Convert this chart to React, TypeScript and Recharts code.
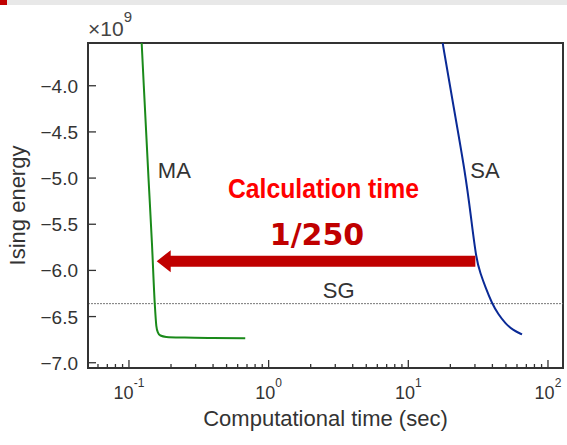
import React from 'react';
import { LineChart, Line, XAxis, YAxis, ReferenceLine, ReferenceArea, ReferenceDot, Label } from 'recharts';

// ---- data ----
const maTime = [0.1225, 0.1277, 0.138, 0.146, 0.153, 0.157, 0.161, 0.168, 0.185, 0.25, 0.4, 0.68];
const maEnergy = [-3.45, -4.0, -5.0, -5.7, -6.36, -6.6, -6.67, -6.705, -6.72, -6.728, -6.733, -6.735];
const saTime = [17.3, 17.6, 21.1, 25.6, 28.1, 30.7, 32.8, 35.6, 39.7, 44.1, 49.5, 56.5, 65.2];
const saEnergy = [-3.45, -3.541, -4.227, -4.949, -5.419, -5.888, -6.029, -6.18, -6.357, -6.476, -6.574, -6.65, -6.693];

const xMajorTicks = [0.1, 1, 10, 100];
const xMinorTicks = [0.06, 0.07, 0.08, 0.09, 0.2, 0.3, 0.4, 0.5, 0.6, 0.7, 0.8, 0.9, 2, 3, 4, 5, 6, 7, 8, 9, 20, 30, 40, 50, 60, 70, 80, 90];
const yTicks = [-7.0, -6.5, -6.0, -5.5, -5.0, -4.5, -4.0];
const xDomain = [0.0509, 128.1];
const yDomain = [-7.057, -3.537];
const yExponent = 9;

const sgEnergy = -6.36;
// arrow: from SA to MA at the same energy
const arrowFrom = { x: 30.2, y: -5.9 };
const arrowTo = { x: 0.158, y: -5.9 };

// annotations (data coords of text baseline)
const annotations = [
  { key: 'MA', text: 'MA', x: 0.161, y: -5.0, kind: 'label', anchor: 'start' },
  { key: 'SA', text: 'SA', x: 27.8, y: -5.0, kind: 'label', anchor: 'start' },
  { key: 'SG', text: 'SG', x: 3.17, y: -6.303, kind: 'label', anchor: 'middle' },
  { key: 'calc', text: 'Calculation time', x: 2.47, y: -5.213, kind: 'title', anchor: 'middle' },
  { key: 'ratio', text: '1/250', x: 2.22, y: -5.729, kind: 'ratio', anchor: 'middle' },
];

const toRows = (xs: number[], ys: number[]) => xs.map((x, i) => ({ x, y: ys[i] }));
const maData = toRows(maTime, maEnergy);
const saData = toRows(saTime, saEnergy);

const FONT = "'Liberation Sans', Arial, Helvetica, sans-serif";
const AXIS = '#333333';

const XTick = (props: any) => {
  const { x, y, payload } = props;
  const v = payload.value;
  const lg = Math.log10(v);
  const e = Math.round(lg);
  const major = Math.abs(lg - e) < 1e-6;
  return (
    <g>
      <line x1={x} x2={x} y1={y} y2={y - (major ? 8 : 4)} stroke={AXIS} strokeWidth={1.3} />
      {major && (
        <text x={x} y={y + 31} textAnchor="middle" fontSize={18} fill={AXIS} fontFamily={FONT}>
          10
          <tspan dy={-12} fontSize={12}>{e < 0 ? '-' + Math.abs(e) : String(e)}</tspan>
        </text>
      )}
    </g>
  );
};

const YTick = (props: any) => {
  const { x, y, payload } = props;
  const v = payload.value as number;
  const s = v.toFixed(1).replace('-', '\u2212');
  return (
    <g>
      <line x1={x} x2={x + 8} y1={y} y2={y} stroke={AXIS} strokeWidth={1.3} />
      <text x={x - 10} y={y + 7} textAnchor="end" fontSize={19} fill={AXIS} fontFamily={FONT}>{s}</text>
    </g>
  );
};

const ArrowShape = (props: any) => {
  const { x1, y1, x2 } = props;
  const y = y1;
  const head = 14;
  const hh = 11;
  const sh = 5.5;
  const d = `M${x2},${y} L${x2 + head},${y - hh} L${x2 + head},${y - sh} L${x1},${y - sh} L${x1},${y + sh} L${x2 + head},${y + sh} L${x2 + head},${y + hh} Z`;
  return <path d={d} fill="#c00000" stroke="none" />;
};

const makeTextShape = (a: any) => (p: any) => {
  const { cx, cy } = p;
  if (a.kind === 'title') {
    return (
      <text x={cx} y={cy} textAnchor={a.anchor} fontSize={27} fontWeight="bold" fill="#ff0000"
        fontFamily={FONT} textLength={191} lengthAdjust="spacingAndGlyphs">
        {a.text}
      </text>
    );
  }
  if (a.kind === 'ratio') {
    return (
      <text x={cx} y={cy} textAnchor={a.anchor} fontSize={30} fontWeight="bold" fill="#c00000"
        fontFamily="'DejaVu Sans', 'Noto Sans CJK JP', sans-serif">
        {a.text}
      </text>
    );
  }
  return (
    <text x={cx} y={cy} textAnchor={a.anchor} fontSize={22} fill={AXIS} fontFamily={FONT}>{a.text}</text>
  );
};

const YTitle = (props: any) => {
  const vb = props.viewBox || {};
  const cy = vb.y + vb.height / 2;
  return (
    <text x={25} y={cy} transform={`rotate(-90, 25, ${cy})`} textAnchor="middle" fontSize={22} fill={AXIS} fontFamily={FONT}>
      Ising energy
    </text>
  );
};

const XTitle = (props: any) => {
  const vb = props.viewBox || {};
  return (
    <text x={vb.x + vb.width / 2} y={426} textAnchor="middle" fontSize={22} fill={AXIS} fontFamily={FONT}>
      Computational time (sec)
    </text>
  );
};

export default function App() {
  return (
    <div style={{ position: 'absolute', left: 0, top: 0, width: 567, height: 445, background: '#ffffff', overflow: 'hidden' }}>
      <div style={{ position: 'absolute', left: 0, top: 0, width: 567, height: 5, background: '#e8e8e8' }} />
      <div style={{ position: 'absolute', left: 0, top: 0, width: 7, height: 5, background: '#c00000' }} />
      <div style={{ position: 'absolute', left: 0, top: 0 }}>
        <LineChart width={567} height={445} margin={{ top: 43, right: 4, bottom: 0, left: 0 }}>
          <XAxis
            dataKey="x"
            type="number"
            scale="log"
            domain={xDomain}
            allowDataOverflow
            ticks={[...xMajorTicks, ...xMinorTicks]}
            interval={0}
            tick={XTick}
            tickLine={false}
            tickSize={0}
            tickMargin={0}
            axisLine={{ stroke: AXIS, strokeWidth: 2 }}
            height={77}
          >
            <Label content={XTitle} />
          </XAxis>
          <YAxis
            dataKey="y"
            type="number"
            domain={yDomain}
            allowDataOverflow
            ticks={yTicks}
            interval={0}
            tick={YTick}
            tickLine={false}
            tickSize={0}
            tickMargin={0}
            axisLine={{ stroke: AXIS, strokeWidth: 2 }}
            width={88}
          >
            <Label content={YTitle} />
          </YAxis>
          <ReferenceArea x1={xDomain[0]} x2={xDomain[1]} y1={yDomain[0]} y2={yDomain[1]} fill="none" fillOpacity={0} stroke={AXIS} strokeWidth={2} ifOverflow="visible" />
          <ReferenceLine y={sgEnergy} stroke="#777" strokeDasharray="2 1" strokeWidth={1} />
          <Line data={maData} dataKey="y" type="monotone" stroke="#1a8a1a" strokeWidth={2} dot={false} isAnimationActive={false} />
          <Line data={saData} dataKey="y" type="basis" stroke="#0a2a96" strokeWidth={2} dot={false} isAnimationActive={false} />
          <ReferenceLine segment={[arrowFrom, arrowTo]} shape={ArrowShape} ifOverflow="visible" />
          {annotations.map((a) => (
            <ReferenceDot key={a.key} x={a.x} y={a.y} r={0} shape={makeTextShape(a)} ifOverflow="visible" />
          ))}
        </LineChart>
      </div>
      <svg width={567} height={42} style={{ position: 'absolute', left: 0, top: 0 }}>
        <text x={88} y={36} fill="#444" fontFamily={FONT} style={{ fontSize: '21px' }}>
          ×10<tspan dy={-14} style={{ fontSize: '15px' }}>{String(yExponent)}</tspan>
        </text>
      </svg>
    </div>
  );
}
